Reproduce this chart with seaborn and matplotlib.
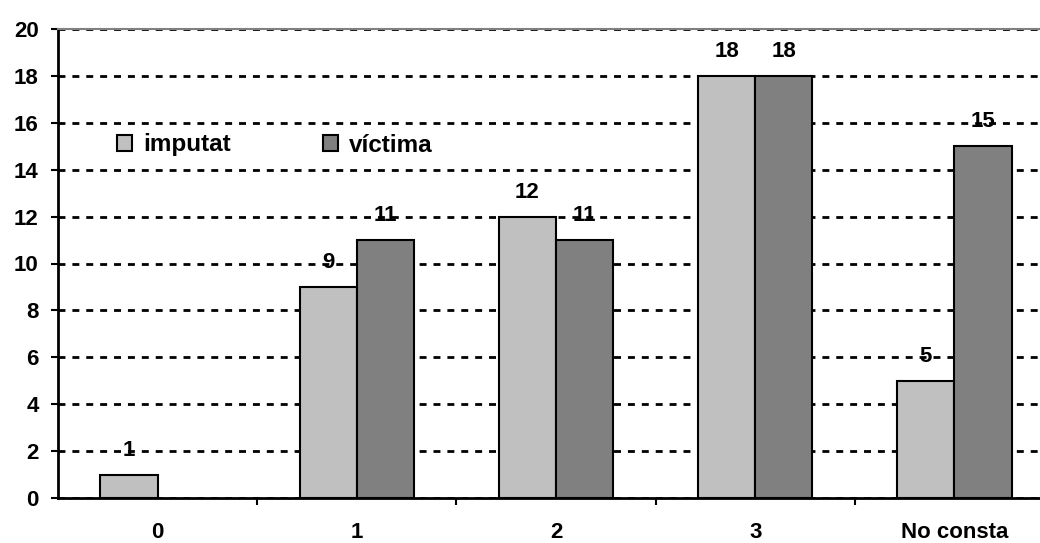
import matplotlib
matplotlib.use("Agg")
import matplotlib.pyplot as plt
import seaborn as sns
import pandas as pd
from matplotlib.ticker import MultipleLocator, FixedLocator

categories = ["0", "1", "2", "3", "No consta"]
imputat = [1, 9, 12, 18, 5]
victima = [0, 11, 11, 18, 15]
series_names = ["imputat", "víctima"]
colors = ["#C0C0C0", "#808080"]

df = pd.DataFrame({
    "cat": categories * 2,
    "serie": [series_names[0]] * 5 + [series_names[1]] * 5,
    "valor": imputat + victima,
})

sns.set_theme(style="white")
plt.rcParams["font.family"] = "Liberation Sans"
plt.rcParams["font.weight"] = "bold"
plt.rcParams["text.color"] = "black"
plt.rcParams["xtick.color"] = "black"
plt.rcParams["ytick.color"] = "black"

FS = 16

fig = plt.figure(figsize=(10.4, 5.43), dpi=100)
ax = fig.add_axes([58 / 1040, 1 - 498 / 543, 982 / 1040, 469 / 543])

sns.barplot(data=df, x="cat", y="valor", hue="serie", order=categories,
            hue_order=series_names, palette=colors, width=0.575,
            edgecolor="black", linewidth=1.5, saturation=1, ax=ax, zorder=3)

# value labels above the bars (skip the empty one)
for p in ax.patches:
    h = p.get_height()
    if h == 0 or p.get_width() == 0:
        p.set_linewidth(0)
        continue
    ax.annotate(f"{int(h)}", (p.get_x() + p.get_width() / 2, h),
                xytext=(0, 17.5), textcoords="offset points",
                ha="center", va="center", fontsize=FS, fontweight="bold",
                family="Liberation Sans", color="black", zorder=5)

ax.set_ylim(0, 20)
ax.set_xlim(-0.5, 4.5 - 14 / 199)
ax.yaxis.set_major_locator(MultipleLocator(2))
ax.yaxis.grid(True, color="black", linestyle=(0, (2.5, 2.5)), linewidth=2, zorder=0)
ax.set_axisbelow(True)

ax.xaxis.set_minor_locator(FixedLocator([0.5, 1.5, 2.5, 3.5]))
ax.tick_params(axis="x", which="major", length=0, pad=17)
ax.tick_params(axis="x", which="minor", length=5, width=1.5, direction="out", bottom=True)
ax.tick_params(axis="y", length=5, width=1.5, direction="out", left=True, pad=9)
for lab in ax.get_xticklabels() + ax.get_yticklabels():
    lab.set_fontweight("bold")
    lab.set_fontsize(FS)
    lab.set_family("Liberation Sans")
    lab.set_color("black")

ax.set_xlabel("")
ax.set_ylabel("")
for side in ["left", "bottom"]:
    ax.spines[side].set_color("black")
    ax.spines[side].set_linewidth(2)
ax.spines["right"].set_visible(False)
ax.spines["top"].set_color("#808080")
ax.spines["top"].set_linewidth(1.5)

leg = ax.legend(loc="center left", bbox_to_anchor=(117 / 1040, 1 - 145 / 543),
                bbox_transform=fig.transFigure, ncol=2, frameon=False,
                borderpad=0, borderaxespad=0, handlelength=0.62, handleheight=0.62,
                handletextpad=0.45, columnspacing=3.8,
                prop={"size": 17.5, "weight": "bold", "family": "Liberation Sans"})
for h in leg.legend_handles:
    h.set_edgecolor("black")
    h.set_linewidth(1.5)

fig.savefig("out.png", dpi=100)
